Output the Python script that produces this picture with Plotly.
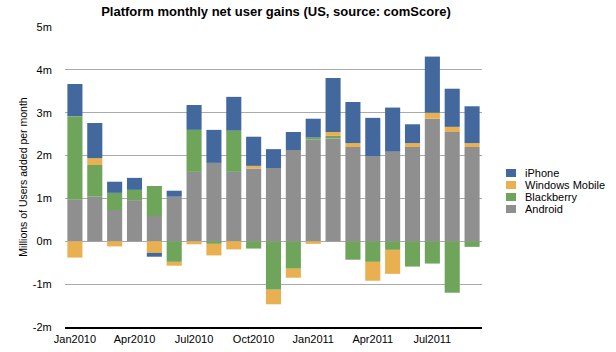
import plotly.graph_objects as go

months = ["Jan2010","Feb2010","Mar2010","Apr2010","May2010","Jun2010","Jul2010","Aug2010","Sep2010","Oct2010","Nov2010","Dec2010",
          "Jan2011","Feb2011","Mar2011","Apr2011","May2011","Jun2011","Jul2011","Aug2011","Sep2011"]
android = [0.97,1.04,0.73,0.96,0.59,1.04,1.62,1.83,1.62,1.70,1.71,2.13,2.37,2.40,2.20,1.99,2.09,2.20,2.86,2.55,2.20]
blackberry = [1.95,0.74,0.40,0.24,0.70,-0.48,0.98,-0.06,0.96,-0.17,-1.13,-0.64,0.05,0.06,-0.43,-0.48,-0.20,-0.59,-0.52,-1.20,-0.13]
winmobile = [-0.38,0.16,-0.12,0.0,-0.27,-0.09,-0.07,-0.27,-0.19,0.06,-0.34,-0.21,-0.06,0.09,0.09,-0.44,-0.56,0.09,0.14,0.12,0.09]
iphone = [0.75,0.82,0.26,0.28,-0.09,0.14,0.58,0.77,0.79,0.68,0.44,0.42,0.44,1.26,0.96,0.89,1.03,0.44,1.31,0.89,0.86]
tick_labels = ["Jan2010","Apr2010","Jul2010","Oct2010","Jan2011","Apr2011","Jul2011"]
y_ticks = [-2,-1,0,1,2,3,4,5]
y_text = ["-2m","-1m","0m","1m","2m","3m","4m","5m"]

series = [("Android", android, "#8E8F8E"),
          ("Blackberry", blackberry, "#6EA55A"),
          ("Windows Mobile", winmobile, "#E8B050"),
          ("iPhone", iphone, "#42689E")]

FONT = "Liberation Sans, Arial, Helvetica, sans-serif"
fig = go.Figure()
for name, vals, col in series:
    fig.add_trace(go.Bar(x=months, y=vals, name=name, marker=dict(color=col, line=dict(width=0)),
                         showlegend=False))

# manual legend (compact spacing like the reference)
legend_items = list(reversed(series))
shapes = []
annotations = []
for i, (name, vals, col) in enumerate(legend_items):
    yc = 173 + i * 12
    shapes.append(dict(type="rect", xref="paper", yref="paper",
                       x0=(506-65)/417, x1=(516-65)/417,
                       y0=(327-(yc+4))/300, y1=(327-(yc-4))/300,
                       fillcolor=col, line=dict(width=0)))
    annotations.append(dict(text=name, xref="paper", yref="paper", x=(523-65)/417, y=(327-yc)/300,
                            xanchor="left", yanchor="middle", showarrow=False,
                            font=dict(family=FONT, size=11, color="black")))

fig.update_layout(
    barmode="relative",
    bargap=0.24,
    width=616, height=352,
    margin=dict(l=65, r=134, t=27, b=25, autoexpand=False),
    paper_bgcolor="white", plot_bgcolor="white",
    title=dict(text="<b>Platform monthly net user gains (US, source: comScore)</b>",
               x=(276)/616, xanchor="center", y=1-11/352, yanchor="middle",
               font=dict(family=FONT, size=13, color="black")),
    font=dict(family=FONT, size=11, color="black"),
    shapes=shapes, annotations=annotations,
)
fig.update_xaxes(type="category", tickvals=tick_labels, ticktext=tick_labels, automargin=False,
                 showline=True, linecolor="black", linewidth=1.5, showgrid=False,
                 ticks="outside", ticklen=1, tickcolor="rgba(0,0,0,0)",
                 tickfont=dict(family=FONT, size=11, color="black"))
fig.update_yaxes(range=[-2, 5], tickvals=y_ticks, ticktext=y_text, automargin=False,
                 showgrid=True, gridcolor="#AAAAAA", gridwidth=1, zeroline=False,
                 ticks="outside", ticklen=10, tickcolor="rgba(0,0,0,0)",
                 tickfont=dict(family=FONT, size=11, color="black"),
                 title=dict(text="Millions of Users added per month", standoff=3,
                            font=dict(family=FONT, size=10.5, color="black")))
fig.write_html("out.html")
